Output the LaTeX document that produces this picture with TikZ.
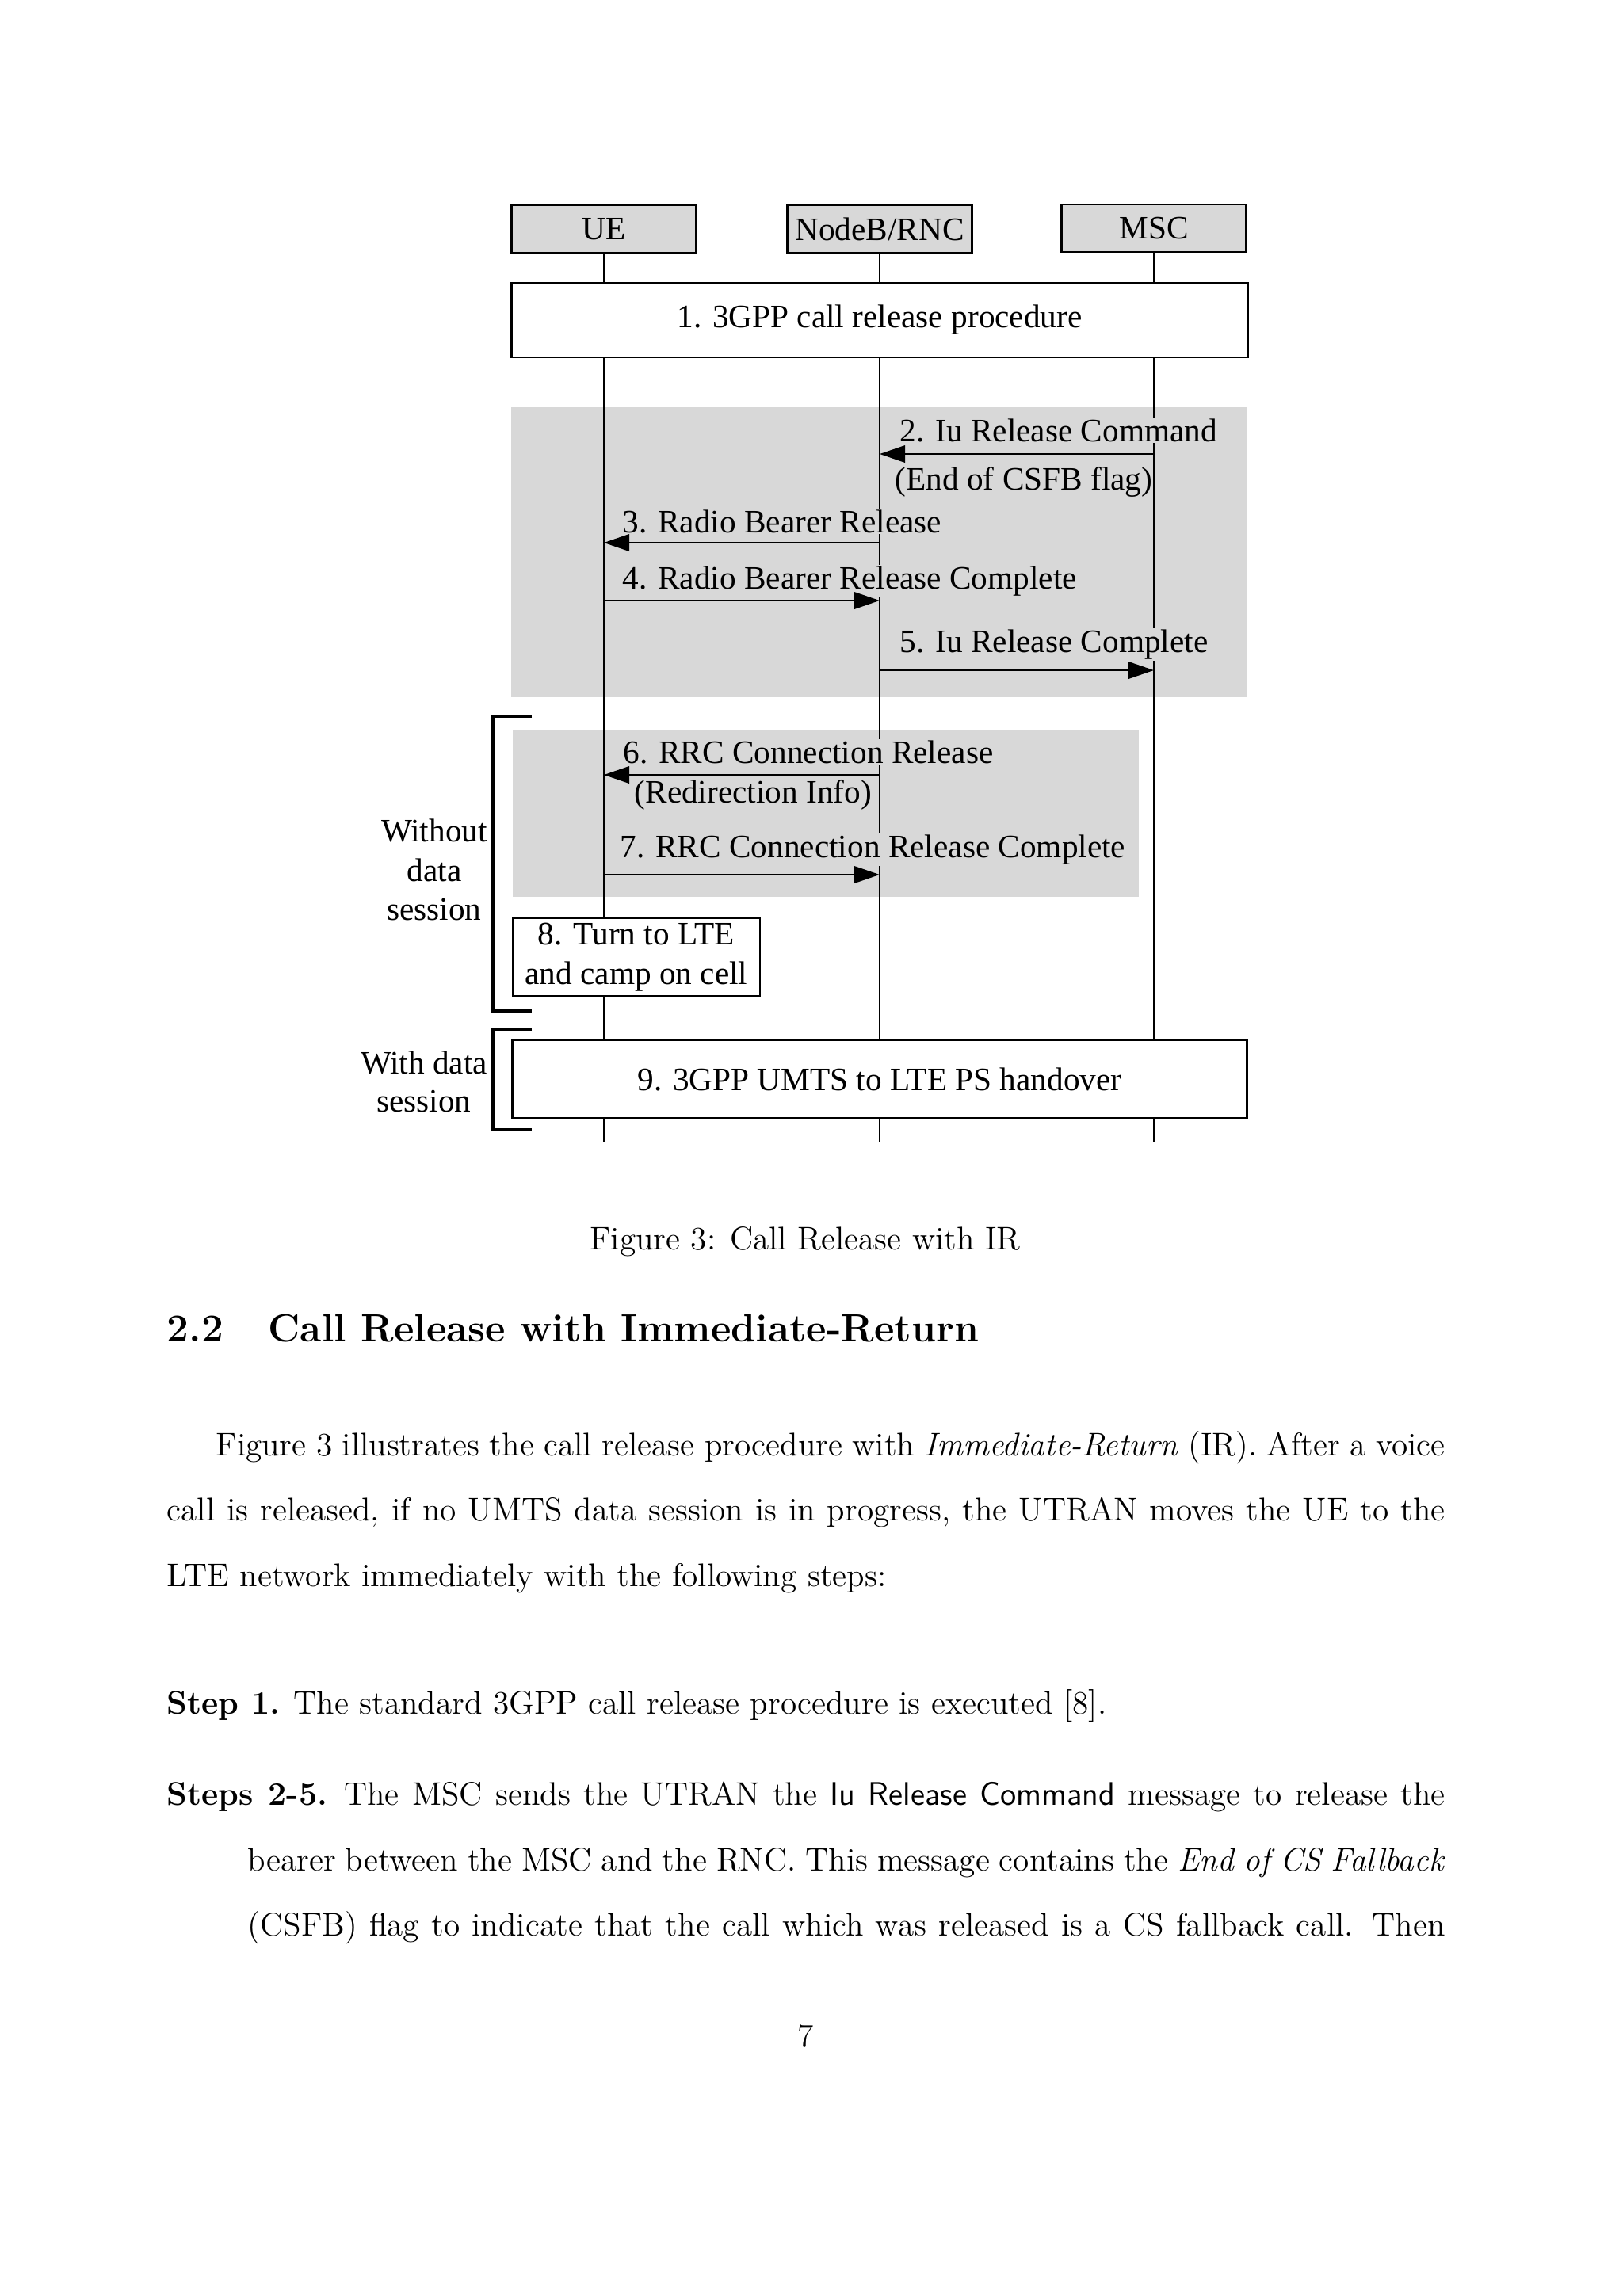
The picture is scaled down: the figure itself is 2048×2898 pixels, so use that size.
\documentclass[tikz,border=0pt]{standalone}
\usepackage{fontspec}
\newfontfamily\tms{Liberation Serif}
\usetikzlibrary{arrows.meta}
\definecolor{bggray}{RGB}{216,216,216}
\begin{document}
\begin{tikzpicture}[x=0.2907pt,y=-0.2907pt,
  hdr/.style={draw, line width=0.8pt, fill=bggray, inner sep=0,
    minimum width=67.7pt, minimum height=17.4pt,
    font=\tms\fontsize{12}{14.4}\selectfont},
  proc/.style={draw, line width=0.8pt, fill=white, inner sep=0, align=center,
    font=\tms\fontsize{12}{14.4}\selectfont},
  life/.style={line width=0.55pt},
  msg/.style={line width=0.7pt, -{Triangle[length=9.3pt,width=6.2pt]}},
  lbl/.style={anchor=base west, inner xsep=0.3pt, inner ysep=0.5pt, fill=bggray,
    font=\tms\fontsize{12}{14.4}\selectfont},
  side/.style={anchor=base, inner sep=0, font=\tms\fontsize{12}{14.4}\selectfont},
  brk/.style={line width=0.9pt},
  shade/.style={fill=bggray, draw=none},
  body/.style={anchor=base west, inner sep=0, font=\fontsize{12}{14.5}\selectfont},
  sec/.style={anchor=base west, inner sep=0, font=\fontsize{14.4}{18}\selectfont\bfseries}
]
\useasboundingbox (0,0) rectangle (2048,2898);

% shaded regions
\fill[shade] (645,514) rectangle (1574,880);
\fill[shade] (647,922) rectangle (1437,1132);

% headers
\node[hdr] (ue)  at (762,289)  {UE};
\node[hdr] (rnc) at (1110,289) {NodeB/RNC};
\node[hdr] (msc) at (1456,288) {MSC};

% lifelines
\coordinate (ueEnd)  at (762,1442);
\coordinate (rncEnd) at (1110,1442);
\coordinate (mscEnd) at (1456,1442);
\draw[life] (ue.south)  -- (ueEnd);
\draw[life] (rnc.south) -- (rncEnd);
\draw[life] (msc.south) -- (mscEnd);

% procedure boxes
\node[proc, minimum width=269.9pt, minimum height=27.3pt] (p1) at (1110,404)
  {1. 3GPP call release procedure};
\node[proc, minimum width=90.7pt, minimum height=28.5pt] (p8) at (803,1208)
  {8. Turn to LTE\\and camp on cell};
\node[proc, minimum width=269.5pt, minimum height=28.8pt] (p9) at (1110,1362)
  {9. 3GPP UMTS to LTE PS handover};

% message labels
\node[lbl] (t2)  at (1134,557)  {2. Iu Release Command};
\node[lbl] (t2b) at (1128,618)  {(End of CSFB flag)};
\node[lbl] (t3)  at (784,672)   {3. Radio Bearer Release};
\node[lbl] (t4)  at (784,743)   {4. Radio Bearer Release Complete};
\node[lbl] (t5)  at (1134,823)  {5. Iu Release Complete};
\node[lbl] (t6)  at (785,963)   {6. RRC Connection Release};
\node[lbl] (t6b) at (799,1013)  {(Redirection Info)};
\node[lbl] (t7)  at (781,1082)  {7. RRC Connection Release Complete};

% messages
\coordinate (m2) at (0,573);
\coordinate (m3) at (0,685);
\coordinate (m4) at (0,758);
\coordinate (m5) at (0,846);
\coordinate (m6) at (0,978);
\coordinate (m7) at (0,1104);
\draw[msg] (msc.south |- m2) -- (rnc.south |- m2);
\draw[msg] (rnc.south |- m3) -- (ue.south |- m3);
\draw[msg] (ue.south |- m4)  -- (rnc.south |- m4);
\draw[msg] (rnc.south |- m5) -- (msc.south |- m5);
\draw[msg] (rnc.south |- m6) -- (ue.south |- m6);
\draw[msg] (ue.south |- m7)  -- (rnc.south |- m7);

% brackets
\draw[brk] (671,904) -- (622,904) -- (622,1276) -- (671,1276);
\draw[brk] (671,1299) -- (622,1299) -- (622,1426) -- (671,1426);
\node[side] (w1) at (548,1062) {Without};
\node[side] (w2) at (548,1112) {data};
\node[side] (w3) at (548,1161) {session};
\node[side] (d1) at (535,1355) {With data};
\node[side] (d2) at (535,1403) {session};

% caption and text
\node[body, anchor=base] (cap) at (1016,1577) {Figure 3: Call Release with IR};
\node[sec] (secn) at (210,1693) {2.2};
\node[sec] (sect) at (338,1693) {Call Release with Immediate-Return};
\node[body] (l1) at (272,1837) {\makebox[450.9pt][s]{Figure 3 illustrates the call release procedure with \textit{Immediate-Return} (IR). After a voice}};
\node[body] (l2) at (210,1919) {\makebox[468.9pt][s]{call is released, if no UMTS data session is in progress, the UTRAN moves the UE to the}};
\node[body] (l3) at (210,2002) {LTE network immediately with the following steps:};
\node[body] (s1) at (210,2163) {\textbf{Step 1.}\hspace{5pt}The standard 3GPP call release procedure is executed [8].};
\node[body] (s2) at (210,2278) {\makebox[468.9pt][s]{\textbf{Steps 2-5.}\hspace{6pt}The MSC sends the UTRAN the \textsf{Iu Release Command} message to release the}};
\node[body] (s3) at (312,2361) {\makebox[439.2pt][s]{bearer between the MSC and the RNC. This message contains the \textit{End of CS Fallback}}};
\node[body] (s4) at (312,2443) {\makebox[439.2pt][s]{(CSFB) flag to indicate that the call which was released is a CS fallback call.  Then}};
\node[body, anchor=base] (pg) at (1017,2583) {7};
\end{tikzpicture}
\end{document}
